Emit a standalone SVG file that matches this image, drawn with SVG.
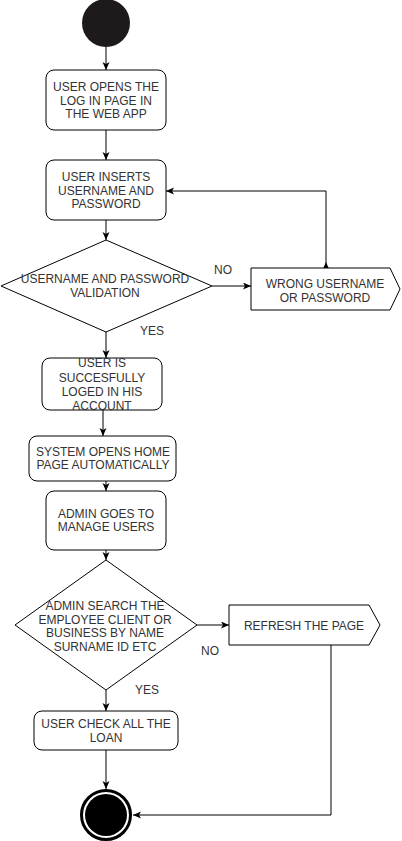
<svg xmlns="http://www.w3.org/2000/svg" width="402" height="841" viewBox="0 0 402 841">
<style>
.box{fill:#fff;stroke:#000;stroke-width:1}
.t{font-family:"Liberation Sans",Arial,sans-serif;font-size:12px;fill:#333;text-anchor:middle}
.c{fill:none;stroke:#000;stroke-width:1}
</style>
<defs>
<marker id="arr" markerUnits="userSpaceOnUse" markerWidth="9" markerHeight="8" refX="8" refY="3.5" orient="auto">
<path d="M0,0 L8,3.5 L0,7 L2,3.5 Z" fill="#000"/>
</marker>
<marker id="arrS" markerUnits="userSpaceOnUse" markerWidth="9" markerHeight="8" refX="0" refY="3.5" orient="auto">
<path d="M0,0 L8,3.5 L0,7 L2,3.5 Z" fill="#000"/>
</marker>
</defs>
<rect width="402" height="841" fill="#fff"/>
<g id="connectors">
<line class="c" x1="106" y1="47" x2="106" y2="70" marker-end="url(#arr)"/>
<line class="c" x1="106" y1="130" x2="106" y2="160" marker-end="url(#arr)"/>
<line class="c" x1="106" y1="220" x2="106" y2="240" marker-end="url(#arr)"/>
<line class="c" x1="212" y1="286" x2="251" y2="286" marker-end="url(#arr)"/>
<path class="c" d="M326,270 L326,191 L166,191" marker-start="url(#arrS)" marker-end="url(#arr)"/>
<line class="c" x1="106" y1="332" x2="106" y2="358" marker-end="url(#arr)"/>
<line class="c" x1="103" y1="410" x2="103" y2="436" marker-end="url(#arr)"/>
<line class="c" x1="106" y1="481" x2="106" y2="491" marker-end="url(#arr)"/>
<line class="c" x1="106" y1="550" x2="106" y2="560" marker-end="url(#arr)"/>
<line class="c" x1="197" y1="625" x2="229" y2="625" marker-end="url(#arr)"/>
<path class="c" d="M331,645 L331,815 L133,815" marker-end="url(#arr)"/>
<line class="c" x1="106" y1="690" x2="106" y2="711" marker-end="url(#arr)"/>
<line class="c" x1="106" y1="750" x2="106" y2="789" marker-end="url(#arr)"/>
<text class="t" x="223" y="274">NO</text>
<text class="t" x="152" y="335">YES</text>
<text class="t" x="210" y="655">NO</text>
<text class="t" x="147" y="694">YES</text>
</g>
<g id="start"><circle cx="106" cy="23" r="24" fill="#1e1a1b"/></g>
<g id="box1">
<rect class="box" x="46" y="70" width="120" height="60" rx="8"/>
<text class="t"><tspan x="106" y="91">USER OPENS THE</tspan><tspan x="106" y="104.5">LOG IN PAGE IN</tspan><tspan x="106" y="118">THE WEB APP</tspan></text>
</g>
<g id="box2">
<rect class="box" x="46" y="160" width="120" height="60" rx="8"/>
<text class="t"><tspan x="106" y="181">USER INSERTS</tspan><tspan x="106" y="194.5">USERNAME AND</tspan><tspan x="106" y="208">PASSWORD</tspan></text>
</g>
<g id="decision1">
<polygon class="box" points="106,240 212,286 106,332 1,286"/>
<text class="t"><tspan x="105" y="283">USERNAME AND PASSWORD</tspan><tspan x="105" y="296.5">VALIDATION</tspan></text>
</g>
<g id="wrong">
<polygon class="box" points="251,268 390,268 400,289 390,310 251,310"/>
<text class="t"><tspan x="325" y="288">WRONG USERNAME</tspan><tspan x="325" y="301.5">OR PASSWORD</tspan></text>
</g>
<g id="box3">
<rect class="box" x="42" y="358" width="120" height="52" rx="8"/>
<text class="t"><tspan x="102" y="367">USER IS</tspan><tspan x="102" y="381.5">SUCCESFULLY</tspan><tspan x="102" y="396">LOGED IN HIS</tspan><tspan x="102" y="410">ACCOUNT</tspan></text>
</g>
<g id="box4">
<rect class="box" x="29" y="436" width="147" height="45" rx="8"/>
<text class="t"><tspan x="103" y="456">SYSTEM OPENS HOME</tspan><tspan x="103" y="469">PAGE AUTOMATICALLY</tspan></text>
</g>
<g id="box5">
<rect class="box" x="46" y="491" width="120" height="59" rx="8"/>
<text class="t"><tspan x="106" y="518">ADMIN GOES TO</tspan><tspan x="106" y="531">MANAGE USERS</tspan></text>
</g>
<g id="decision2">
<polygon class="box" points="106,560 197,625 106,690 15,625"/>
<text class="t"><tspan x="105" y="610">ADMIN SEARCH THE</tspan><tspan x="105" y="623.5">EMPLOYEE CLIENT OR</tspan><tspan x="105" y="637">BUSINESS BY NAME</tspan><tspan x="105" y="651">SURNAME ID ETC</tspan></text>
</g>
<g id="refresh">
<polygon class="box" points="229,605 369,605 380,625 369,645 229,645"/>
<text class="t" x="304" y="630">REFRESH THE PAGE</text>
</g>
<g id="box6">
<rect class="box" x="34" y="711" width="144" height="39" rx="8"/>
<text class="t"><tspan x="106" y="728">USER CHECK ALL THE</tspan><tspan x="106" y="742">LOAN</tspan></text>
</g>
<g id="end">
<circle cx="106" cy="815" r="24.5" fill="#fff" stroke="#000" stroke-width="3"/>
<circle cx="106" cy="815" r="21" fill="#000"/>
</g>
</svg>
